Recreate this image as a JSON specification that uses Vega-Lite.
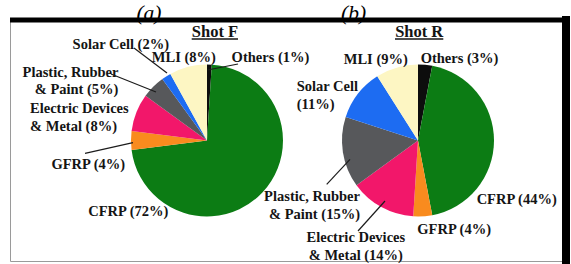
{
  "$schema": "https://vega.github.io/schema/vega-lite/v6.json",
  "width": 556,
  "height": 241,
  "autosize": {"type": "none"},
  "padding": {"left": 10, "top": 20, "right": 5, "bottom": 3},
  "background": "white",
  "config": {
    "view": {"stroke": "#9a9a9a", "strokeWidth": 1},
    "text": {"font": "Liberation Serif", "fontWeight": "bold", "fontSize": 14.5, "fill": "#141414", "align": "center", "baseline": "middle", "lineBreak": "\n", "lineHeight": 17.5}
  },
  "datasets": {
    "slices": [
      {"shot": "Shot F", "cat": "Others", "value": 1, "rank": 1, "label": "Others (1%)"},
      {"shot": "Shot F", "cat": "CFRP", "value": 72, "rank": 2, "label": "CFRP (72%)"},
      {"shot": "Shot F", "cat": "GFRP", "value": 4, "rank": 3, "label": "GFRP (4%)"},
      {"shot": "Shot F", "cat": "Electric Devices & Metal", "value": 8, "rank": 4, "label": "Electric Devices\n& Metal (8%)"},
      {"shot": "Shot F", "cat": "Plastic, Rubber & Paint", "value": 5, "rank": 5, "label": "Plastic, Rubber\n& Paint (5%)"},
      {"shot": "Shot F", "cat": "Solar Cell", "value": 2, "rank": 6, "label": "Solar Cell (2%)"},
      {"shot": "Shot F", "cat": "MLI", "value": 8, "rank": 7, "label": "MLI (8%)"},
      {"shot": "Shot R", "cat": "Others", "value": 3, "rank": 1, "label": "Others (3%)"},
      {"shot": "Shot R", "cat": "CFRP", "value": 44, "rank": 2, "label": "CFRP (44%)"},
      {"shot": "Shot R", "cat": "GFRP", "value": 4, "rank": 3, "label": "GFRP (4%)"},
      {"shot": "Shot R", "cat": "Electric Devices & Metal", "value": 14, "rank": 4, "label": "Electric Devices\n& Metal  (14%)"},
      {"shot": "Shot R", "cat": "Plastic, Rubber & Paint", "value": 15, "rank": 5, "label": "Plastic, Rubber\n& Paint (15%)"},
      {"shot": "Shot R", "cat": "Solar Cell", "value": 11, "rank": 6, "label": "Solar Cell\n(11%)"},
      {"shot": "Shot R", "cat": "MLI", "value": 9, "rank": 7, "label": "MLI (9%)"}
    ],
    "panels": [
      {"shot": "Shot F", "panel": "(a)"},
      {"shot": "Shot R", "panel": "(b)"}
    ]
  },
  "layer": [
    {
      "data": {"name": "panels"},
      "transform": [{"filter": "datum.shot === 'Shot F'"}],
      "mark": {"type": "text", "font": "Liberation Serif", "fontWeight": "normal", "fontStyle": "italic", "fontSize": 21.5, "baseline": "alphabetic", "fill": "black", "dx": -58, "dy": -121},
      "encoding": {
        "x": {"field": "shot", "type": "nominal", "scale": {"type": "point", "domain": ["Shot F", "Shot R"], "padding": 0.8175, "align": 0.571}, "axis": null},
        "text": {"field": "panel"}
      }
    },
    {
      "data": {"name": "panels"},
      "transform": [{"filter": "datum.shot === 'Shot R'"}],
      "mark": {"type": "text", "font": "Liberation Serif", "fontWeight": "normal", "fontStyle": "italic", "fontSize": 21.5, "baseline": "alphabetic", "fill": "black", "dx": -64.5, "dy": -121},
      "encoding": {
        "x": {"field": "shot", "type": "nominal", "scale": {"type": "point", "domain": ["Shot F", "Shot R"], "padding": 0.8175, "align": 0.571}, "axis": null},
        "text": {"field": "panel"}
      }
    },
    {
      "data": {"values": [{}]},
      "mark": {"type": "rule", "color": "black", "strokeWidth": 5, "strokeCap": "butt"},
      "encoding": {"y": {"value": 0}}
    },
    {
      "data": {"values": [{}]},
      "mark": {"type": "rule", "color": "black", "strokeWidth": 8, "strokeCap": "square"},
      "encoding": {"x": {"value": "width"}}
    },
    {
      "data": {"name": "slices"},
      "transform": [{"filter": "datum.shot === 'Shot F'"}],
      "encoding": {
        "x": {"field": "shot", "type": "nominal", "scale": {"type": "point", "domain": ["Shot F", "Shot R"], "padding": 0.8175, "align": 0.571}, "axis": null},
        "theta": {"field": "value", "type": "quantitative", "stack": true},
        "order": {"field": "rank", "type": "quantitative"}
      },
      "layer": [
        {
          "mark": {"type": "arc", "outerRadius": 76},
          "encoding": {
            "color": {"field": "cat", "type": "nominal", "legend": null,
              "scale": {"domain": ["Others", "CFRP", "GFRP", "Electric Devices & Metal", "Plastic, Rubber & Paint", "Solar Cell", "MLI"],
                        "range": ["#0d0d0d", "#0c7c14", "#f98b1e", "#f2176a", "#57585b", "#1d6cf2", "#fdf6c3"]}}
          }
        },
        {"mark": {"type": "text", "radius": 83, "dx": 22, "dy": 0, "align": "left"},
         "encoding": {"text": {"condition": {"test": "datum.cat === 'Others'", "field": "label"}, "value": ""}}},
        {"mark": {"type": "text", "radius": 85, "dx": -2, "dy": 0},
         "encoding": {"text": {"condition": {"test": "datum.cat === 'MLI'", "field": "label"}, "value": ""}}},
        {"mark": {"type": "text", "radius": 126, "dx": -18.7, "dy": 11.2},
         "encoding": {"text": {"condition": {"test": "datum.cat === 'Solar Cell'", "field": "label"}, "value": ""}}},
        {"mark": {"type": "text", "radius": 105, "dx": -14.3, "dy": 6.25, "align": "right"},
         "encoding": {"text": {"condition": {"test": "datum.cat === 'Plastic, Rubber & Paint'", "field": "label"}, "value": ""}}},
        {"mark": {"type": "text", "radius": 173, "dx": -16.1, "dy": 32.35, "align": "left"},
         "encoding": {"text": {"condition": {"test": "datum.cat === 'Electric Devices & Metal'", "field": "label"}, "value": ""}}},
        {"mark": {"type": "text", "radius": 119, "dx": 0.3, "dy": 24.5},
         "encoding": {"text": {"condition": {"test": "datum.cat === 'GFRP'", "field": "label"}, "value": ""}}},
        {"mark": {"type": "text", "radius": 80, "dx": -137, "dy": 16.7},
         "encoding": {"text": {"condition": {"test": "datum.cat === 'CFRP'", "field": "label"}, "value": ""}}}
      ]
    },
    {
      "data": {"name": "slices"},
      "transform": [{"filter": "datum.shot === 'Shot R'"}],
      "encoding": {
        "x": {"field": "shot", "type": "nominal", "scale": {"type": "point", "domain": ["Shot F", "Shot R"], "padding": 0.8175, "align": 0.571}, "axis": null},
        "theta": {"field": "value", "type": "quantitative", "stack": true},
        "order": {"field": "rank", "type": "quantitative"}
      },
      "layer": [
        {
          "mark": {"type": "arc", "outerRadius": 76},
          "encoding": {
            "color": {"field": "cat", "type": "nominal", "legend": null,
              "scale": {"domain": ["Others", "CFRP", "GFRP", "Electric Devices & Metal", "Plastic, Rubber & Paint", "Solar Cell", "MLI"],
                        "range": ["#0d0d0d", "#0c7c14", "#f98b1e", "#f2176a", "#57585b", "#1d6cf2", "#fdf6c3"]}}
          }
        },
        {"mark": {"type": "text", "radius": 85, "dx": 33.5, "dy": 3.1},
         "encoding": {"text": {"condition": {"test": "datum.cat === 'Others'", "field": "label"}, "value": ""}}},
        {"mark": {"type": "text", "radius": 89, "dx": -17.4, "dy": 4.7},
         "encoding": {"text": {"condition": {"test": "datum.cat === 'MLI'", "field": "label"}, "value": ""}}},
        {"mark": {"type": "text", "radius": 123, "dx": -24.1, "dy": 22.05, "align": "left"},
         "encoding": {"text": {"condition": {"test": "datum.cat === 'Solar Cell'", "field": "label"}, "value": ""}}},
        {"mark": {"type": "text", "radius": 80, "dx": 21, "dy": 44.15, "align": "right"},
         "encoding": {"text": {"condition": {"test": "datum.cat === 'Plastic, Rubber & Paint'", "field": "label"}, "value": ""}}},
        {"mark": {"type": "text", "radius": 123, "dx": -2.9, "dy": -10.25},
         "encoding": {"text": {"condition": {"test": "datum.cat === 'Electric Devices & Metal'", "field": "label"}, "value": ""}}},
        {"mark": {"type": "text", "radius": 92, "dx": 30.4, "dy": -2.3},
         "encoding": {"text": {"condition": {"test": "datum.cat === 'GFRP'", "field": "label"}, "value": ""}}},
        {"mark": {"type": "text", "radius": 99, "dx": -0.3, "dy": 59.5},
         "encoding": {"text": {"condition": {"test": "datum.cat === 'CFRP'", "field": "label"}, "value": ""}}}
      ]
    },
    {
      "data": {"name": "panels"},
      "encoding": {
        "x": {"field": "shot", "type": "nominal", "scale": {"type": "point", "domain": ["Shot F", "Shot R"], "padding": 0.8175, "align": 0.571}, "axis": null},
        "x2": {"field": "shot"},
        "y": {"datum": "pie", "type": "nominal", "scale": {"type": "point", "domain": ["pie"]}, "axis": null},
        "y2": {"datum": "pie"}
      },
      "layer": [
        {"transform": [{"filter": "datum.shot === 'Shot F'"}],
         "mark": {"type": "rule", "color": "#1c1c1c", "strokeWidth": 1.2, "xOffset": 0.5, "x2Offset": 31, "yOffset": -70.5, "y2Offset": -76.5}},
        {"transform": [{"filter": "datum.shot === 'Shot F'"}],
         "mark": {"type": "rule", "color": "#1c1c1c", "strokeWidth": 1.2, "xOffset": -40, "x2Offset": -73, "yOffset": -67.5, "y2Offset": -92.5}},
        {"transform": [{"filter": "datum.shot === 'Shot F'"}],
         "mark": {"type": "rule", "color": "#1c1c1c", "strokeWidth": 1.2, "xOffset": -51, "x2Offset": -96, "yOffset": -48.5, "y2Offset": -66.5}},
        {"transform": [{"filter": "datum.shot === 'Shot F'"}],
         "mark": {"type": "rule", "color": "#1c1c1c", "strokeWidth": 1.2, "xOffset": -74, "x2Offset": -122, "yOffset": 2.2, "y2Offset": 12.8}},
        {"transform": [{"filter": "datum.shot === 'Shot R'"}],
         "mark": {"type": "rule", "color": "#1c1c1c", "strokeWidth": 1.2, "xOffset": -68, "x2Offset": -91.3, "yOffset": 18.8, "y2Offset": 43.8}},
        {"transform": [{"filter": "datum.shot === 'Shot R'"}],
         "mark": {"type": "rule", "color": "#1c1c1c", "strokeWidth": 1.2, "xOffset": -33, "x2Offset": -60, "yOffset": 60.5, "y2Offset": 90.5}},
        {"transform": [{"filter": "datum.shot === 'Shot F'"}],
         "mark": {"type": "rule", "color": "#141414", "strokeWidth": 1.5, "xOffset": -15.3, "x2Offset": 31, "yOffset": -101.5, "y2Offset": -101.5}},
        {"transform": [{"filter": "datum.shot === 'Shot R'"}],
         "mark": {"type": "rule", "color": "#141414", "strokeWidth": 1.5, "xOffset": -23, "x2Offset": 25.3, "yOffset": -101.5, "y2Offset": -101.5}}
      ]
    },
    {
      "data": {"name": "panels"},
      "transform": [{"filter": "datum.shot === 'Shot F'"}],
      "mark": {"type": "text", "fontSize": 16.5, "baseline": "alphabetic", "dx": 8, "dy": -103.5},
      "encoding": {
        "x": {"field": "shot", "type": "nominal", "scale": {"type": "point", "domain": ["Shot F", "Shot R"], "padding": 0.8175, "align": 0.571}, "axis": null},
        "text": {"field": "shot"}
      }
    },
    {
      "data": {"name": "panels"},
      "transform": [{"filter": "datum.shot === 'Shot R'"}],
      "mark": {"type": "text", "fontSize": 16.5, "baseline": "alphabetic", "dx": 1.2, "dy": -103.5},
      "encoding": {
        "x": {"field": "shot", "type": "nominal", "scale": {"type": "point", "domain": ["Shot F", "Shot R"], "padding": 0.8175, "align": 0.571}, "axis": null},
        "text": {"field": "shot"}
      }
    }
  ]
}
